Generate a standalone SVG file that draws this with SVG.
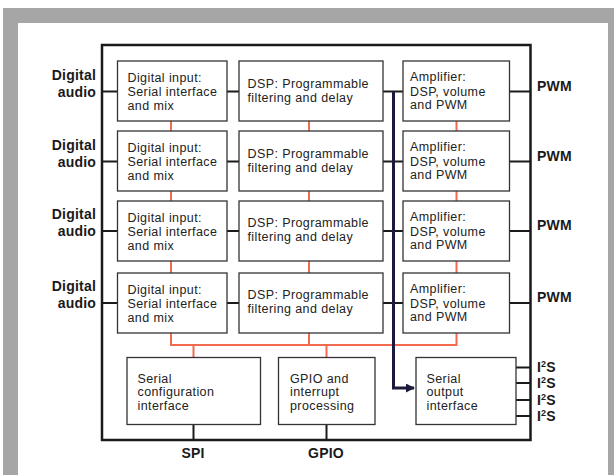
<svg xmlns="http://www.w3.org/2000/svg" width="614" height="475" viewBox="0 0 614 475">
<style>
.box{fill:#fff;stroke:#333;stroke-width:1.3}
.t{font-family:"Liberation Sans",Arial,sans-serif;font-size:12.5px;letter-spacing:0.4px;fill:#222}
.lb{font-family:"Liberation Sans",Arial,sans-serif;font-size:14px;font-weight:bold;letter-spacing:0.2px;fill:#1a1a1a}
.sup{font-size:9px}
.blk{stroke:#1a1a1a;stroke-width:2;fill:none}
.org{stroke:#f26b4f;stroke-width:2;fill:none}
.nav{stroke:#1b1a3d;stroke-width:3;fill:none}
</style>
<defs>
<marker id="arr" viewBox="0 0 10 10" refX="9" refY="5" markerWidth="3" markerHeight="3" orient="auto" markerUnits="strokeWidth">
<path d="M0,0 L10,5 L0,10 z" fill="#1b1a3d"/>
</marker>
</defs>
<rect x="3" y="8" width="611" height="467" fill="#a6a6a6"/>
<rect x="18" y="23" width="590" height="452" fill="#fff"/>
<rect id="chip" x="102" y="45" width="428.5" height="395" fill="none" stroke="#1a1a1a" stroke-width="2.5"/>

<g id="connectors">
<path class="blk" d="M102,91.5H117.5M227,91.5H239M383,91.5H403M509.5,91.5H530"/>
<path class="blk" d="M102,161.5H117.5M227,161.5H239M383,161.5H403M509.5,161.5H530"/>
<path class="blk" d="M102,231H117.5M227,231H239M383,231H403M509.5,231H530"/>
<path class="blk" d="M102,303H117.5M227,303H239M383,303H403M509.5,303H530"/>
<path class="org" d="M171,121V131M171,191V201M171,261V273M309,121V131M309,191V201M309,261V273M456.5,121V131M456.5,191V201M456.5,261V273"/>
<path class="org" d="M171,333V345H456.5V333M309,333V345M193.5,345V357.5M326.5,345V357.5"/>
<path class="nav" d="M393.5,91V388H414" marker-end="url(#arr)"/>
<path class="blk" d="M193.5,424.5V440M326.5,424.5V440"/>
<path class="blk" d="M516,367.5H530M516,383H530M516,400H530M516,416H530"/>
</g>

<g id="din1"><rect class="box" x="117.5" y="61" width="109.5" height="60"/><text class="t"><tspan x="127.5" y="81.5">Digital input:</tspan><tspan x="127.5" y="95.5">Serial interface</tspan><tspan x="127.5" y="109.5">and mix</tspan></text></g>
<g id="din2"><rect class="box" x="117.5" y="131" width="109.5" height="60"/><text class="t"><tspan x="127.5" y="151.5">Digital input:</tspan><tspan x="127.5" y="165.5">Serial interface</tspan><tspan x="127.5" y="179.5">and mix</tspan></text></g>
<g id="din3"><rect class="box" x="117.5" y="201" width="109.5" height="60"/><text class="t"><tspan x="127.5" y="221.5">Digital input:</tspan><tspan x="127.5" y="235.5">Serial interface</tspan><tspan x="127.5" y="249.5">and mix</tspan></text></g>
<g id="din4"><rect class="box" x="117.5" y="273" width="109.5" height="60"/><text class="t"><tspan x="127.5" y="293.5">Digital input:</tspan><tspan x="127.5" y="307.5">Serial interface</tspan><tspan x="127.5" y="321.5">and mix</tspan></text></g>

<g id="dsp1"><rect class="box" x="239" y="61" width="144" height="60"/><text class="t"><tspan x="247.5" y="87.5">DSP: Programmable</tspan><tspan x="247.5" y="101.5">filtering and delay</tspan></text></g>
<g id="dsp2"><rect class="box" x="239" y="131" width="144" height="60"/><text class="t"><tspan x="247.5" y="157.5">DSP: Programmable</tspan><tspan x="247.5" y="171.5">filtering and delay</tspan></text></g>
<g id="dsp3"><rect class="box" x="239" y="201" width="144" height="60"/><text class="t"><tspan x="247.5" y="227">DSP: Programmable</tspan><tspan x="247.5" y="241">filtering and delay</tspan></text></g>
<g id="dsp4"><rect class="box" x="239" y="273" width="144" height="60"/><text class="t"><tspan x="247.5" y="299">DSP: Programmable</tspan><tspan x="247.5" y="313">filtering and delay</tspan></text></g>

<g id="amp1"><rect class="box" x="403" y="61" width="106.5" height="60"/><text class="t"><tspan x="410" y="81">Amplifier:</tspan><tspan x="410" y="95.5">DSP, volume</tspan><tspan x="410" y="109">and PWM</tspan></text></g>
<g id="amp2"><rect class="box" x="403" y="131" width="106.5" height="60"/><text class="t"><tspan x="410" y="151">Amplifier:</tspan><tspan x="410" y="165.5">DSP, volume</tspan><tspan x="410" y="179">and PWM</tspan></text></g>
<g id="amp3"><rect class="box" x="403" y="201" width="106.5" height="60"/><text class="t"><tspan x="410" y="221">Amplifier:</tspan><tspan x="410" y="235.5">DSP, volume</tspan><tspan x="410" y="249">and PWM</tspan></text></g>
<g id="amp4"><rect class="box" x="403" y="273" width="106.5" height="60"/><text class="t"><tspan x="410" y="293">Amplifier:</tspan><tspan x="410" y="307.5">DSP, volume</tspan><tspan x="410" y="321">and PWM</tspan></text></g>

<g id="cfg"><rect class="box" x="127" y="357.5" width="133.5" height="67"/><text class="t"><tspan x="137.5" y="382.5">Serial</tspan><tspan x="137.5" y="396">configuration</tspan><tspan x="137.5" y="410">interface</tspan></text></g>
<g id="gpio"><rect class="box" x="278.5" y="357.5" width="96.5" height="67"/><text class="t"><tspan x="290" y="382.5">GPIO and</tspan><tspan x="290" y="396">interrupt</tspan><tspan x="290" y="410">processing</tspan></text></g>
<g id="sout"><rect class="box" x="416" y="357.5" width="100" height="67"/><text class="t"><tspan x="426.5" y="382.5">Serial</tspan><tspan x="426.5" y="396">output</tspan><tspan x="426.5" y="410">interface</tspan></text></g>

<g id="labels">
<text class="lb" text-anchor="end"><tspan x="96" y="79.5">Digital</tspan><tspan x="96" y="96.5">audio</tspan></text>
<text class="lb" text-anchor="end"><tspan x="96" y="149.5">Digital</tspan><tspan x="96" y="166.5">audio</tspan></text>
<text class="lb" text-anchor="end"><tspan x="96" y="219">Digital</tspan><tspan x="96" y="236">audio</tspan></text>
<text class="lb" text-anchor="end"><tspan x="96" y="291">Digital</tspan><tspan x="96" y="308">audio</tspan></text>
<text class="lb" x="537" y="90.5">PWM</text>
<text class="lb" x="537" y="160.5">PWM</text>
<text class="lb" x="537" y="230">PWM</text>
<text class="lb" x="537" y="302">PWM</text>
<text class="lb" x="537" y="372">I<tspan class="sup" dy="-5">2</tspan><tspan dy="5">S</tspan></text>
<text class="lb" x="537" y="388">I<tspan class="sup" dy="-5">2</tspan><tspan dy="5">S</tspan></text>
<text class="lb" x="537" y="404.5">I<tspan class="sup" dy="-5">2</tspan><tspan dy="5">S</tspan></text>
<text class="lb" x="537" y="421">I<tspan class="sup" dy="-5">2</tspan><tspan dy="5">S</tspan></text>
<text class="lb" x="193" y="458" text-anchor="middle">SPI</text>
<text class="lb" x="326" y="458" text-anchor="middle">GPIO</text>
</g>
</svg>
